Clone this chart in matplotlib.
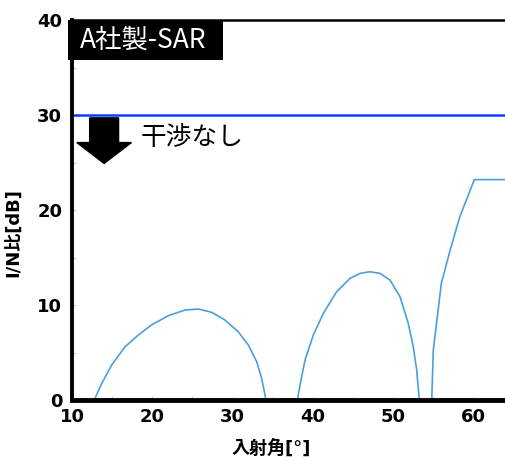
import matplotlib
matplotlib.use("Agg")
import matplotlib.pyplot as plt
from matplotlib.patches import Rectangle
from matplotlib.ticker import MultipleLocator

# Incidence angle [deg] and I/N ratio [dB]
angle = [12.78, 13.7, 14.94, 16.6, 18.26, 19.9, 22.0, 24.07, 25.73, 27.4, 29.05, 30.7, 31.96, 33.0, 33.62, 34.16,
         38.06, 38.6, 39.02, 40.05, 41.3, 42.96, 44.62, 45.87, 47.1, 48.36, 49.6, 50.85, 51.88, 52.5, 52.93, 53.25,
         54.8, 55.0, 55.2, 56.0, 57.1, 58.3, 59.6, 60.1, 64.5]
in_ratio = [0.0, 1.75, 3.68, 5.6, 6.84, 7.9, 8.88, 9.47, 9.58, 9.23, 8.42, 7.19, 5.79, 4.04, 2.28, 0.0,
            0.0, 2.46, 4.2, 6.84, 9.12, 11.4, 12.8, 13.33, 13.5, 13.33, 12.63, 10.87, 8.07, 5.6, 3.16, 0.0,
            0.0, 5.3, 6.7, 12.3, 15.8, 19.3, 22.1, 23.2, 23.2]
threshold = 30
x_ticks = [10, 20, 30, 40, 50, 60]
y_ticks = [0, 10, 20, 30, 40]
title = "A社製-SAR"
note = "干渉なし"
xlabel = "入射角[°]"
ylabel = "I/N比[dB]"

fam = ['DejaVu Sans', 'Noto Sans CJK JP']
cjk = ['Noto Sans CJK JP', 'DejaVu Sans']

fig = plt.figure(figsize=(5.06, 4.61), dpi=100)
ax = fig.add_axes([0.1423, 0.1323, 0.8577, 0.8243])

ax.plot(angle, in_ratio, color='#4a9fdc', lw=1.2, clip_on=True)
ax.axhline(threshold, color='#0a3cff', lw=1.8)

ax.set_xlim(10, 64.05)
ax.set_ylim(0, 40)
ax.set_xticks(x_ticks)
ax.set_yticks(y_ticks)
ax.xaxis.set_minor_locator(MultipleLocator(5))
ax.yaxis.set_minor_locator(MultipleLocator(5))
ax.tick_params(which='both', direction='in', length=3, color='#cccccc', width=0.8)
ax.tick_params(axis='x', which='major', labelsize=13, pad=6)
ax.tick_params(axis='y', which='major', labelsize=13, pad=7)
for lab in ax.get_xticklabels() + ax.get_yticklabels():
    lab.set_fontweight('bold')
    lab.set_family('DejaVu Sans')

ax.spines['right'].set_visible(False)
ax.spines['left'].set_linewidth(2.8)
ax.spines['bottom'].set_linewidth(3.5)
ax.spines['top'].set_linewidth(1.8)

ax.set_xlabel(xlabel, fontsize=13, fontweight='bold', family=fam)
ax.xaxis.set_label_coords(0.458, -0.105)
ax.set_ylabel(ylabel, fontsize=13, fontweight='bold', family=fam)
ax.yaxis.set_label_coords(-0.115, 0.44)

# title box
ax.add_patch(Rectangle((-0.009, 0.895), 0.357, 0.105, transform=ax.transAxes,
                       facecolor='black', edgecolor='none', clip_on=False, zorder=5))
ax.text(0.018, 0.947, title, transform=ax.transAxes, color='white', fontsize=19,
        va='center', ha='left', family=cjk, zorder=6)

# arrow and note
ax.arrow(14.0, 29.7, 0, -4.8, width=3.6, head_width=6.8, head_length=2.2,
         length_includes_head=True, color='black', zorder=4)
ax.text(18.5, 27.6, note, fontsize=18.5, va='center', ha='left', family=cjk)

fig.savefig('out.png', dpi=100)
